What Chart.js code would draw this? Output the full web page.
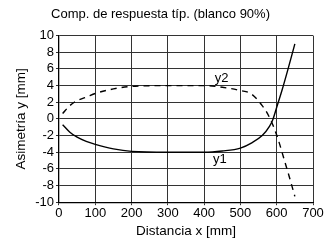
<!DOCTYPE html>
<html>
<head>
<meta charset="utf-8">
<script src="https://cdn.jsdelivr.net/npm/chart.js@4.4.0/dist/chart.umd.min.js"></script>
<style>
  html, body { margin: 0; padding: 0; background: #fff; }
  #wrap { width: 331px; height: 244px; }
</style>
</head>
<body>
<div id="wrap"><canvas id="chart-area"></canvas></div>
<script>
// curve y1 (solid)
var x1 = [10, 30, 50, 75, 100, 150, 200, 300, 400, 450, 500, 530, 560, 580, 590, 600, 615, 630, 650];
var y1 = [-0.7, -1.6, -2.2, -2.7, -3.05, -3.6, -3.9, -4, -4, -3.85, -3.5, -2.9, -2, -0.9, 0, 1.4, 3.5, 5.8, 9];
// curve y2 (dashed)
var x2 = [10, 30, 50, 75, 100, 150, 200, 300, 400, 450, 500, 530, 560, 575, 590, 605, 620, 635, 650];
var y2 = [0.65, 1.6, 2.2, 2.6, 3.05, 3.6, 3.9, 4, 4, 3.8, 3.4, 3.0, 1.6, 0.6, -0.8, -2.6, -4.8, -7, -9.3];
var xTicks = [0, 100, 200, 300, 400, 500, 600, 700];
var yTicks = [-10, -8, -6, -4, -2, 0, 2, 4, 6, 8, 10];
// curve labels
var curveLabels = [
  { text: "y2", x: 448, y: 4.9 },
  { text: "y1", x: 443, y: -4.9 }
];

function pts(xs, ys) {
  var arr = [];
  for (var i = 0; i < xs.length; i++) arr.push({ x: xs[i], y: ys[i] });
  return arr;
}

var font = "'Liberation Sans', Arial, sans-serif";

// 曲線旁的文字
var labelPlugin = {
  id: "curveLabels",
  afterDatasetsDraw: function(chart) {
    var c = chart.ctx;
    c.save();
    c.font = "13px " + font;
    c.fillStyle = "#000";
    c.textAlign = "center";
    c.textBaseline = "middle";
    curveLabels.forEach(function(l) {
      c.fillText(l.text, chart.scales.x.getPixelForValue(l.x), chart.scales.y.getPixelForValue(l.y));
    });
    c.restore();
  }
};

var ctx = document.getElementById("chart-area");
var myChart = new Chart(ctx, {
  type: "line",
  data: {
    datasets: [
      {
        label: "y1",
        data: pts(x1, y1),
        borderColor: "#000",
        borderWidth: 1.4,
        pointRadius: 0,
        cubicInterpolationMode: "monotone",
        fill: false
      },
      {
        label: "y2",
        data: pts(x2, y2),
        borderColor: "#000",
        borderWidth: 1.4,
        borderDash: [6, 5],
        pointRadius: 0,
        cubicInterpolationMode: "monotone",
        fill: false
      }
    ]
  },
  plugins: [labelPlugin],
  options: {
    responsive: true,
    maintainAspectRatio: false,
    animation: false,
    layout: { padding: { left: 8, right: 18, top: 0, bottom: 0 } },
    plugins: {
      legend: { display: false },
      tooltip: { enabled: false },
      title: {
        display: true,
        text: "Comp. de respuesta típ. (blanco 90%)",
        color: "#000",
        font: { family: font, size: 13, weight: "normal" },
        padding: { top: 7, bottom: 13 }
      }
    },
    scales: {
      x: {
        type: "linear",
        min: 0,
        max: 700,
        afterBuildTicks: function(axis) { axis.ticks = xTicks.map(function(v) { return { value: v }; }); },
        ticks: { color: "#000", font: { family: font, size: 13 }, padding: 0, maxRotation: 0, autoSkip: false },
        grid: { color: "#333", lineWidth: 1, tickLength: 3 },
        border: { color: "#000", width: 1.3 },
        title: {
          display: true,
          text: "Distancia x [mm]",
          color: "#000",
          font: { family: font, size: 13.5 },
          padding: { top: 2, bottom: 5 }
        }
      },
      y: {
        type: "linear",
        min: -10,
        max: 10,
        afterBuildTicks: function(axis) { axis.ticks = yTicks.map(function(v) { return { value: v }; }); },
        ticks: { color: "#000", font: { family: font, size: 13 }, padding: 2, autoSkip: false },
        grid: { color: "#333", lineWidth: 1, tickLength: 3 },
        border: { color: "#000", width: 1.3 },
        title: {
          display: true,
          text: "Asimetría y [mm]",
          color: "#000",
          font: { family: font, size: 13.5 },
          padding: { top: 5, bottom: 4 }
        }
      }
    }
  }
});
</script>
</body>
</html>
